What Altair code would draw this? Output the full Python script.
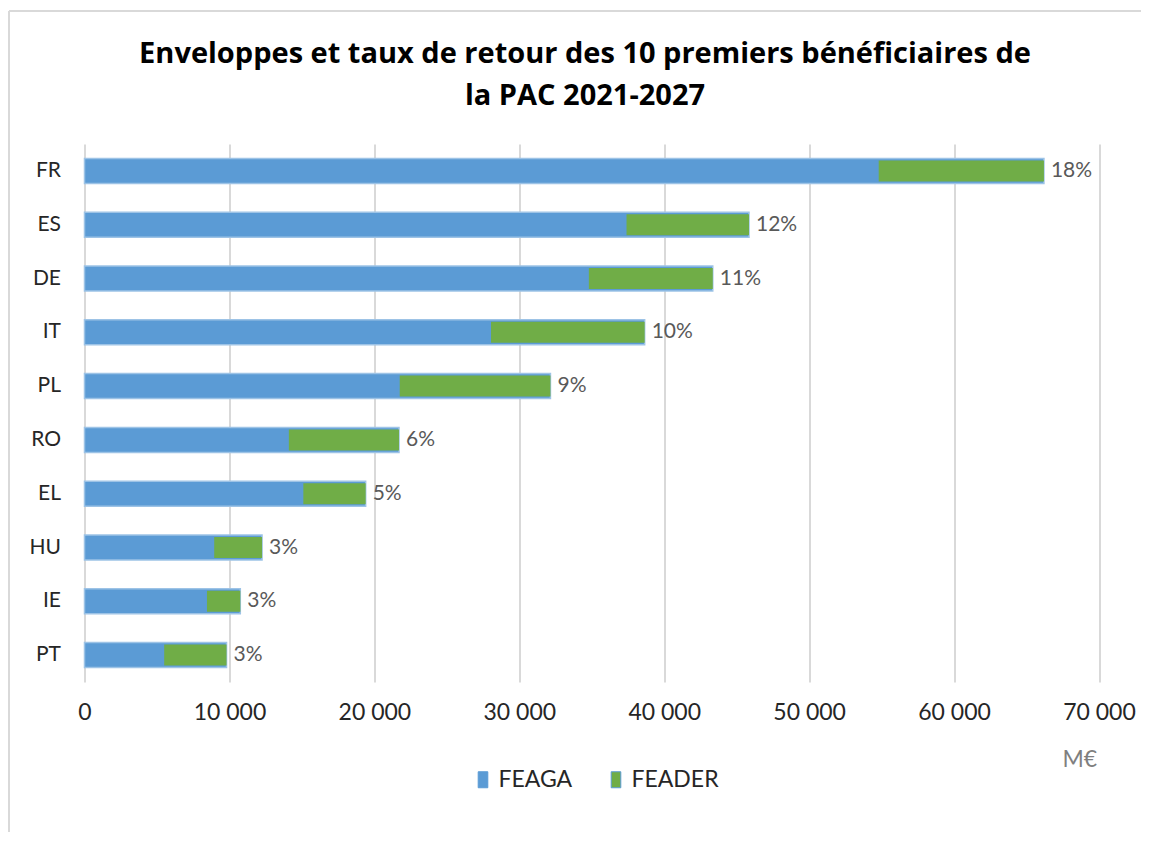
import altair as alt
import pandas as pd

countries = ["FR", "ES", "DE", "IT", "PL", "RO", "EL", "HU", "IE", "PT"]
feaga = [54800, 37400, 34800, 28050, 21750, 14100, 15100, 8950, 8450, 5500]
feader = [11400, 8450, 8550, 10600, 10400, 7600, 4300, 3300, 2300, 4300]
pct_labels = ["18%", "12%", "11%", "10%", "9%", "6%", "5%", "3%", "3%", "3%"]
x_ticks = [0, 10000, 20000, 30000, 40000, 50000, 60000, 70000]
series = ["FEAGA", "FEADER"]
colors = ["#5B9BD5", "#70AD47"]
title_lines = ["Enveloppes et taux de retour des 10 premiers bénéficiaires de", "la PAC 2021-2027"]

df = pd.DataFrame({"pays": countries, "feaga": feaga, "feader": feader, "pct": pct_labels})

FONT = "Lato"
TFONT = "Open Sans"
W, H = 1014.5, 538

base = alt.Chart(df).transform_calculate(total="datum.feaga + datum.feader")

y_enc = alt.Y("pays:N", sort=countries, title=None,
              scale=alt.Scale(paddingInner=0, paddingOuter=0),
              axis=alt.Axis(ticks=False, domain=False, labelFontSize=21, labelFont=FONT,
                            labelColor="#262626", labelPadding=24))
x_scale = alt.Scale(domain=[0, 70000], nice=False)
color_scale = alt.Scale(domain=series, range=colors)

legend = alt.Legend(title=None, orient="none", legendX=387, legendY=624, direction="horizontal",
                    labelFontSize=23, labelFont=FONT, labelColor="#262626",
                    symbolType="M-0.6,-1H0.6V1H-0.6Z", symbolSize=256,
                    symbolStrokeColor="#5B9BD5", symbolStrokeWidth=1,
                    labelOffset=4, columnPadding=32)

blue = base.transform_calculate(serie="'FEAGA'").mark_bar(size=25, stroke="#9DC3E6", strokeWidth=1.5).encode(
    y=y_enc,
    x=alt.X("total:Q", scale=x_scale, title="M€",
            axis=alt.Axis(values=x_ticks, grid=True, gridColor="#D9D9D9", gridWidth=2,
                          ticks=False, domain=False, labelFontSize=23, labelFont=FONT,
                          labelColor="#262626", labelPadding=19, labelFlush=False,
                          labelExpr="datum.value == 0 ? '0' : format(datum.value/1000, 'd') + ' 000'",
                          titleFont=FONT, titleFontSize=23, titleFontWeight="normal",
                          titleColor="#7F7F7F", titleAlign="left", titleBaseline="middle",
                          titleX=977.5, titleY=77, titleAnchor="start")),
    color=alt.Color("serie:N", scale=color_scale, legend=legend),
)

green = base.transform_calculate(serie="'FEADER'").mark_bar(size=21).encode(
    y=alt.Y("pays:N", sort=countries),
    x=alt.X("feaga:Q", scale=x_scale),
    x2="total:Q",
    color=alt.Color("serie:N", scale=color_scale, legend=legend),
)

labels = base.mark_text(align="left", baseline="middle", dx=7, fontSize=21, font=FONT,
                        color="#595959").encode(
    y=alt.Y("pays:N", sort=countries),
    x=alt.X("total:Q", scale=x_scale),
    text="pct:N",
)

frame_df = pd.DataFrame({"k": [0]})
top_line = alt.Chart(frame_df).mark_rule(color="#D9D9D9", strokeWidth=2, clip=False).encode(
    x=alt.value(-75.5), x2=alt.value(1060), y=alt.value(-133))
left_line = alt.Chart(frame_df).mark_rule(color="#D9D9D9", strokeWidth=2, clip=False).encode(
    x=alt.value(-75.5), y=alt.value(-133), y2=alt.value(700))

title1 = alt.Chart(frame_df).mark_text(font=TFONT, fontSize=29, fontWeight="bold", color="#000000",
                                       align="center", baseline="alphabetic").encode(
    x=alt.value(500.5), y=alt.value(-80.7), text=alt.value(title_lines[0]))
title2 = alt.Chart(frame_df).mark_text(font=TFONT, fontSize=29, fontWeight="bold", color="#000000",
                                       align="center", baseline="alphabetic").encode(
    x=alt.value(500.5), y=alt.value(-38.7), text=alt.value(title_lines[1]))

chart = alt.layer(top_line, left_line, title1, title2, blue, green, labels).properties(
    width=W, height=H,
    autosize=alt.AutoSizeParams(type="none"),
    padding={"left": 76.5, "top": 136, "right": 42, "bottom": 150},
).configure_view(stroke=None)

chart.save("out.html", embed_options={"renderer": "svg", "actions": False})
